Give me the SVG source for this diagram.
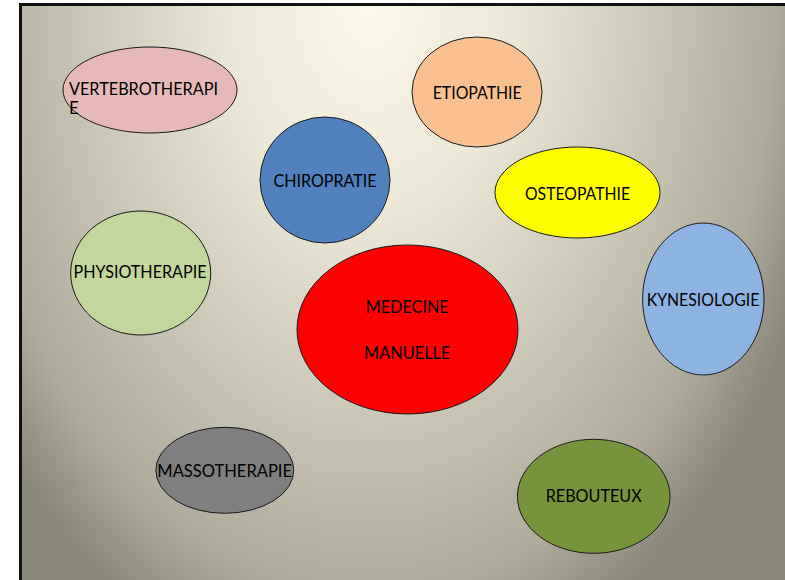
<svg xmlns="http://www.w3.org/2000/svg" width="785" height="580" viewBox="0 0 785 580">
  <defs>
    <radialGradient id="bg" gradientUnits="userSpaceOnUse" cx="370" cy="0" r="560" gradientTransform="translate(370 0) scale(0.85 1.25) translate(-370 0)">
      <stop offset="0" stop-color="#fcf9ea"/>
      <stop offset="0.3" stop-color="#ece8d8"/>
      <stop offset="0.6" stop-color="#cbc7b7"/>
      <stop offset="0.85" stop-color="#aeab9c"/>
      <stop offset="1" stop-color="#8a877b"/>
    </radialGradient>
    <style>
      .n { stroke: #1a1a1a; stroke-width: 1; }
      .t { font-family: Lato, "Open Sans", "Liberation Sans", sans-serif; font-size: 17px; fill: #000; text-anchor: middle; }
      .s { text-anchor: start; }
    </style>
  </defs>
  <rect x="0" y="0" width="785" height="580" fill="#ffffff"/>
  <rect x="21" y="5" width="764" height="575" fill="url(#bg)"/>
  <g id="frame" stroke="#111" stroke-width="3" fill="none">
    <line x1="19" y1="4.5" x2="785" y2="4.5"/>
    <line x1="20.5" y1="3" x2="20.5" y2="580"/>
  </g>
  <g id="connectors"></g>

  <g id="vertebrotherapie">
    <ellipse class="n" cx="150" cy="90" rx="87" ry="43" fill="#e6b9b8"/>
    <text class="t s" x="69" y="95" textLength="149" lengthAdjust="spacingAndGlyphs">VERTEBROTHERAPI</text>
    <text class="t s" x="69" y="114">E</text>
  </g>
  <g id="etiopathie">
    <ellipse class="n" cx="477" cy="92" rx="65" ry="55" fill="#fac090"/>
    <text class="t" x="477.2" y="99" textLength="89" lengthAdjust="spacingAndGlyphs">ETIOPATHIE</text>
  </g>
  <g id="chiropratie">
    <ellipse class="n" cx="325" cy="180" rx="65" ry="63" fill="#4f81bd"/>
    <text class="t" x="325" y="187" textLength="103" lengthAdjust="spacingAndGlyphs">CHIROPRATIE</text>
  </g>
  <g id="osteopathie">
    <ellipse class="n" cx="577.5" cy="192.5" rx="82.5" ry="45.5" fill="#ffff00"/>
    <text class="t" x="577.5" y="200" textLength="105" lengthAdjust="spacingAndGlyphs">OSTEOPATHIE</text>
  </g>
  <g id="physiotherapie">
    <ellipse class="n" cx="140.7" cy="273" rx="70" ry="62" fill="#c3d69b"/>
    <text class="t" x="140" y="278" textLength="133" lengthAdjust="spacingAndGlyphs">PHYSIOTHERAPIE</text>
  </g>
  <g id="kynesiologie">
    <ellipse class="n" cx="703.3" cy="299" rx="60.7" ry="76" fill="#8db3e2"/>
    <text class="t" x="703" y="305.7" textLength="112.6" lengthAdjust="spacingAndGlyphs">KYNESIOLOGIE</text>
  </g>
  <g id="medecine-manuelle">
    <ellipse class="n" cx="407.5" cy="329.5" rx="110.5" ry="84.5" fill="#ff0000"/>
    <text class="t" x="407.2" y="313" textLength="83" lengthAdjust="spacingAndGlyphs">MEDECINE</text>
    <text class="t" x="407.2" y="359" textLength="86.3" lengthAdjust="spacingAndGlyphs">MANUELLE</text>
  </g>
  <g id="massotherapie">
    <ellipse class="n" cx="224.8" cy="470.3" rx="69" ry="43" fill="#7f7f7f"/>
    <text class="t" x="224.7" y="477" textLength="134.7" lengthAdjust="spacingAndGlyphs">MASSOTHERAPIE</text>
  </g>
  <g id="rebouteux">
    <ellipse class="n" cx="593.7" cy="496.3" rx="76.3" ry="57" fill="#77933c"/>
    <text class="t" x="593.7" y="502" textLength="96" lengthAdjust="spacingAndGlyphs">REBOUTEUX</text>
  </g>
</svg>
